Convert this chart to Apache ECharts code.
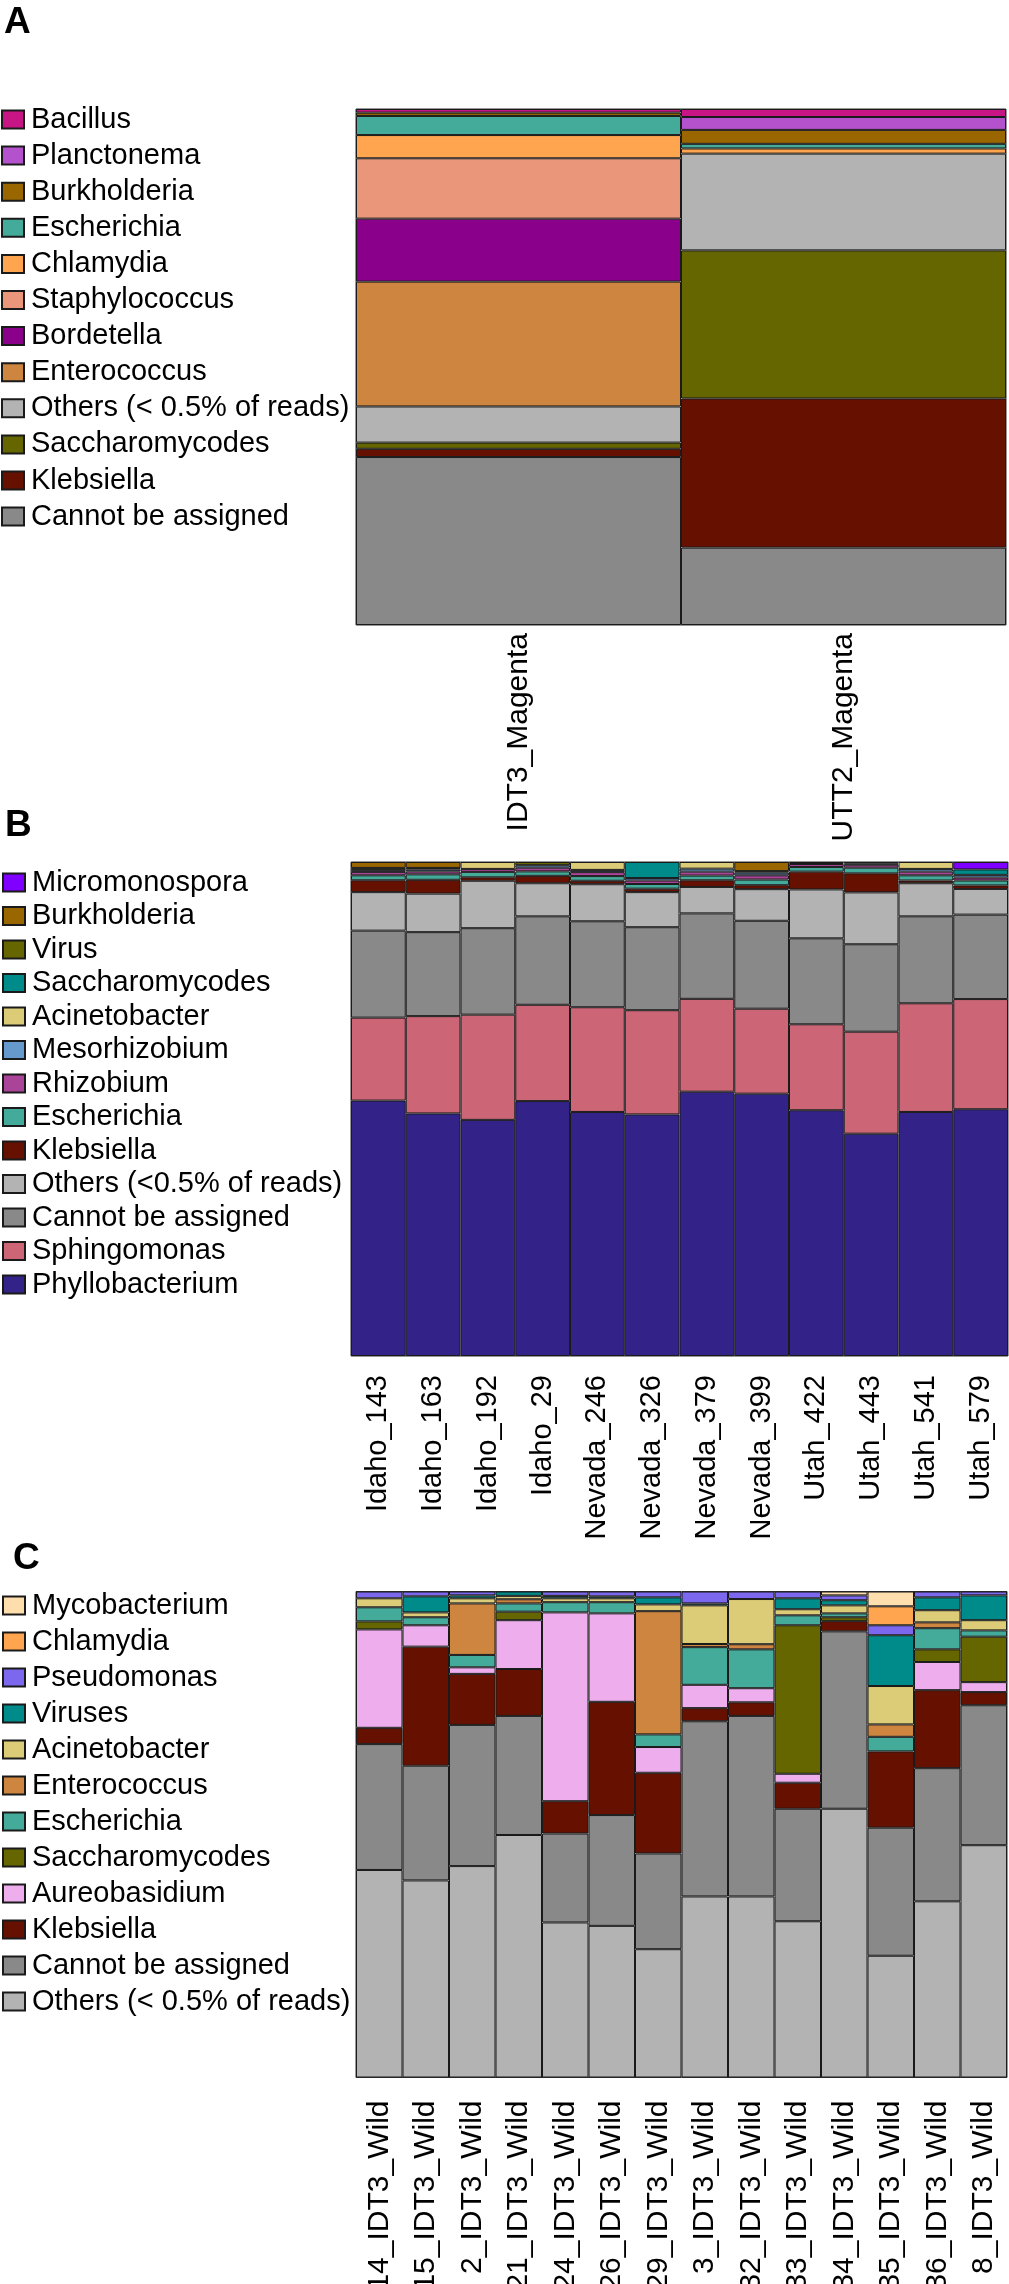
<!DOCTYPE html>
<html><head><meta charset="utf-8">
<script src="https://cdn.jsdelivr.net/npm/echarts@6/dist/echarts.min.js"></script>
<style>html,body{margin:0;padding:0;background:#fff}.p{position:absolute;left:0;width:1009px}</style>
</head><body>
<div id="pa" class="p" style="top:0;height:860px;z-index:1"></div>
<div id="pb" class="p" style="top:780px;height:760px;z-index:2"></div>
<div id="pc" class="p" style="top:1540px;height:744px;z-index:3"></div>
<script>
// ---------- Panel A ----------
const catsA = ['IDT3_Magenta', 'UTT2_Magenta'];
const A_Bacillus        = [0.7, 1.55];
const A_Planctonema     = ['-', 2.5];
const A_Burkholderia    = [0.65, 2.7];
const A_Escherichia     = [3.7, 0.9];
const A_Chlamydia       = [4.5, 1.0];
const A_Staphylococcus  = [11.7, '-'];
const A_Bordetella      = [12.2, '-'];
const A_Enterococcus    = [24.2, '-'];
const A_Others          = [7.0, 18.75];
const A_Saccharomycodes = [1.2, 28.7];
const A_Klebsiella      = [1.6, 28.9];
const A_Cannot          = [32.55, 15.0];

// ---------- Panel B ----------
const catsB = ['Idaho_143','Idaho_163','Idaho_192','Idaho_29','Nevada_246','Nevada_326','Nevada_379','Nevada_399','Utah_422','Utah_443','Utah_541','Utah_579'];
const B_Micromonospora  = ['-','-','-','-','-','-','-','-','-','-','-',1.5];
const B_Burkholderia    = [1.2,1.2,'-','-','-','-','-',1.85,'-','-','-','-'];
const B_Virus           = [0.45,0.3,'-',0.65,'-','-','-',0.3,0.2,0.3,'-','-'];
const B_Saccharomycodes = ['-','-','-','-','-',3.25,'-','-','-','-','-',1.1];
const B_Acinetobacter   = ['-','-',1.4,'-',1.6,'-',1.35,'-','-','-',1.4,'-'];
const B_Mesorhizobium   = [0.35,0.4,'-',0.5,0.45,0.5,0.6,0.55,0.2,0.25,0.55,0.55];
const B_Rhizobium       = [0.7,0.6,0.6,0.75,0.8,0.7,0.8,0.85,0.6,0.6,0.75,0.6];
const B_Escherichia     = [1.0,1.1,1.1,0.9,0.95,0.95,0.95,1.15,0.95,1.15,1.05,1.0];
const B_Klebsiella      = [2.4,2.8,0.7,1.5,0.7,0.7,1.35,0.8,3.6,3.85,0.55,0.7];
const B_Others          = [7.8,7.8,9.6,6.7,7.5,7.1,5.35,6.4,9.9,10.5,6.7,5.2];
const B_Cannot          = [17.6,17.0,17.5,17.9,17.4,16.8,17.3,17.8,17.4,17.7,17.6,17.1];
const B_Sphingomonas    = [16.8,19.7,21.3,19.5,21.2,21.1,18.8,17.2,17.4,20.65,22.0,22.3];
const B_Phyllobacterium = [51.7,49.1,47.8,51.6,49.4,48.9,53.5,53.1,49.75,45.0,49.4,49.95];

// ---------- Panel C ----------
const catsC = ['14_IDT3_Wild','15_IDT3_Wild','2_IDT3_Wild','21_IDT3_Wild','24_IDT3_Wild','26_IDT3_Wild','29_IDT3_Wild','3_IDT3_Wild','32_IDT3_Wild','33_IDT3_Wild','34_IDT3_Wild','35_IDT3_Wild','36_IDT3_Wild','8_IDT3_Wild'];
const C_Mycobacterium   = ['-','-','-','-','-','-','-','-','-','-',0.8,3.05,'-','-'];
const C_Chlamydia       = ['-','-','-','-','-','-','-','-','-','-','-',3.9,'-','-'];
const C_Pseudomonas     = [1.4,1.0,0.8,'-',0.9,1.0,1.2,2.45,1.55,1.4,1.0,2.05,1.2,0.8];
const C_Viruses         = ['-',3.3,0.6,0.9,0.5,0.4,1.45,0.4,'-',2.25,1.05,10.45,2.65,5.1];
const C_Acinetobacter   = [1.85,1.0,1.05,0.7,0.8,0.8,1.4,7.95,9.3,1.25,1.65,7.9,2.5,2.1];
const C_Enterococcus    = ['-','-',10.6,0.85,'-','-',25.35,0.65,1.05,'-','-',2.55,1.2,'-'];
const C_Escherichia     = [2.9,1.65,2.55,1.7,2.1,2.3,2.6,7.75,8.0,2.05,0.8,3.0,4.35,1.3];
const C_Saccharomycodes = [1.65,'-','-',1.75,'-','-','-','-','-',30.55,0.8,'-',2.6,9.35];
const C_Aureobasidium   = [20.25,4.4,1.35,10.05,38.85,18.2,5.3,4.8,2.9,1.85,'-','-',5.8,2.05];
const C_Klebsiella      = [3.35,24.5,10.5,9.65,6.65,23.3,16.6,2.7,2.8,5.35,2.1,15.7,16.05,2.7];
const C_Cannot          = [25.9,23.6,29.05,24.5,18.3,22.8,19.7,36.05,37.15,23.15,36.5,26.35,27.4,28.8];
const C_Others          = [42.7,40.55,43.5,49.9,31.9,31.2,26.4,37.25,37.25,32.15,55.3,25.05,36.25,47.8];

const FONT = '"Liberation Sans", Arial, Helvetica, sans-serif';

function build(el, cfg) {
  const chart = echarts.init(document.getElementById(el), null, {renderer: 'canvas'});
  const series = cfg.taxa.slice().reverse().map(t => ({
    type: 'bar', name: t[0], stack: 'all', data: t[2],
    barCategoryGap: '0%',
    itemStyle: {color: t[1], borderColor: '#1a1a1a', borderWidth: 1},
    emphasis: {disabled: true}
  }));
  chart.setOption({
    animation: false,
    backgroundColor: 'transparent',
    graphic: [{type: 'text', left: cfg.letter[1], top: cfg.letter[2],
      style: {text: cfg.letter[0], font: 'bold 37px ' + FONT, fill: '#000'}}],
    legend: {
      orient: 'vertical', left: cfg.legend.left, top: cfg.legend.top,
      itemWidth: 22, itemHeight: 18, itemGap: cfg.legend.gap, padding: 0,
      icon: 'rect', selectedMode: false,
      data: cfg.taxa.map(t => t[0]),
      textStyle: {fontSize: 29, fontFamily: FONT, color: '#000', padding: [0, 0, 0, 2]}
    },
    grid: Object.assign({show: true, borderColor: '#333', borderWidth: 1, backgroundColor: 'transparent',
      containLabel: false, outerBoundsMode: 'none'}, cfg.grid),
    xAxis: {
      type: 'category', data: cfg.cats,
      axisTick: {show: false}, axisLine: {show: false},
      axisLabel: {rotate: 90, interval: 0, fontSize: cfg.labelSize, fontFamily: FONT, color: '#000',
        margin: cfg.margin, hideOverlap: false, padding: cfg.labelPad}
    },
    yAxis: {type: 'value', min: 0, max: 100, show: false},
    series: series
  });
}

build('pa', {
  letter: ['A', 4, 4],
  cats: catsA,
  taxa: [
    ['Bacillus', '#C71585', A_Bacillus],
    ['Planctonema', '#B452CD', A_Planctonema],
    ['Burkholderia', '#996600', A_Burkholderia],
    ['Escherichia', '#44AA99', A_Escherichia],
    ['Chlamydia', '#FFA54F', A_Chlamydia],
    ['Staphylococcus', '#E9967A', A_Staphylococcus],
    ['Bordetella', '#8B008B', A_Bordetella],
    ['Enterococcus', '#CD853F', A_Enterococcus],
    ['Others (< 0.5% of reads)', '#B3B3B3', A_Others],
    ['Saccharomycodes', '#666600', A_Saccharomycodes],
    ['Klebsiella', '#661100', A_Klebsiella],
    ['Cannot be assigned', '#898989', A_Cannot]
  ],
  legend: {left: 1, top: 105, gap: 7.1},
  grid: {left: 356, top: 109, width: 650, height: 516},
  labelSize: 30, margin: 8, labelPad: [20, 0, 0, 0]
});

build('pb', {
  letter: ['B', 5, 27],
  cats: catsB,
  taxa: [
    ['Micromonospora', '#7F00FF', B_Micromonospora],
    ['Burkholderia', '#996600', B_Burkholderia],
    ['Virus', '#666600', B_Virus],
    ['Saccharomycodes', '#008B8B', B_Saccharomycodes],
    ['Acinetobacter', '#DDCC77', B_Acinetobacter],
    ['Mesorhizobium', '#6699CC', B_Mesorhizobium],
    ['Rhizobium', '#AA4499', B_Rhizobium],
    ['Escherichia', '#44AA99', B_Escherichia],
    ['Klebsiella', '#661100', B_Klebsiella],
    ['Others (<0.5% of reads)', '#B3B3B3', B_Others],
    ['Cannot be assigned', '#898989', B_Cannot],
    ['Sphingomonas', '#CC6677', B_Sphingomonas],
    ['Phyllobacterium', '#332288', B_Phyllobacterium]
  ],
  legend: {left: 2, top: 88, gap: 4.5},
  grid: {left: 351, top: 82, width: 657, height: 494},
  labelSize: 29, margin: 19, labelPad: 0
});

build('pc', {
  letter: ['C', 13, 0],
  cats: catsC,
  taxa: [
    ['Mycobacterium', '#FFDEAD', C_Mycobacterium],
    ['Chlamydia', '#FFA54F', C_Chlamydia],
    ['Pseudomonas', '#7B68EE', C_Pseudomonas],
    ['Viruses', '#008B8B', C_Viruses],
    ['Acinetobacter', '#DDCC77', C_Acinetobacter],
    ['Enterococcus', '#CD853F', C_Enterococcus],
    ['Escherichia', '#44AA99', C_Escherichia],
    ['Saccharomycodes', '#666600', C_Saccharomycodes],
    ['Aureobasidium', '#EEAEEE', C_Aureobasidium],
    ['Klebsiella', '#661100', C_Klebsiella],
    ['Cannot be assigned', '#898989', C_Cannot],
    ['Others (< 0.5% of reads)', '#B3B3B3', C_Others]
  ],
  legend: {left: 2, top: 51, gap: 7},
  grid: {left: 356, top: 51.5, width: 651, height: 486},
  labelSize: 30, margin: 23, labelPad: 0
});
</script>
</body></html>
